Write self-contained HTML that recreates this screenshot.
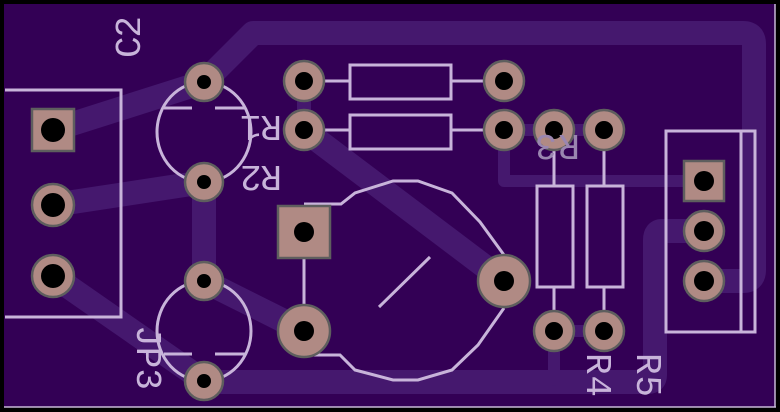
<!DOCTYPE html>
<html><head><style>html,body{margin:0;padding:0;background:#000}svg{display:block}</style></head>
<body>
<svg width="780" height="412" viewBox="0 0 780 412" xmlns="http://www.w3.org/2000/svg">
<rect x="0" y="0" width="780" height="412" fill="#000"/>
<rect x="4" y="4" width="771" height="403" fill="#330055"/>
<line x1="4" y1="407" x2="776" y2="407" stroke="#c8b8d8" stroke-width="1.5"/>
<line x1="775" y1="4" x2="775" y2="407" stroke="#c8b8d8" stroke-width="1.5"/>
<g stroke="#45186e" fill="none" stroke-linejoin="round" stroke-linecap="round">
 <path d="M204,82 L253,33 L743,33 Q754,33 754,44 L754,270 Q754,281 743,281 L704,281" stroke-width="24"/>
 <path d="M704,231 L662,231 Q655,231 655,240 L655,375 Q655,382 648,382 L204,382" stroke-width="24"/>
 <path d="M53,130 L204,82" stroke-width="24"/>
 <path d="M53,205 L204,182" stroke-width="24"/>
 <path d="M204,182 L204,281" stroke-width="24"/>
 <path d="M53,276 L204,381" stroke-width="24"/>
 <path d="M204,281 L304,331" stroke-width="24"/>
 <path d="M304,130 L504,281" stroke-width="24"/>
 <path d="M304,81 L304,130" stroke-width="14"/>
 <path d="M504,130 L504,181 L704,181" stroke-width="12"/>
 <path d="M504,130 L604,130" stroke-width="12"/>
 <path d="M554,331 L604,331" stroke-width="12"/>
 <path d="M554,331 L554,380" stroke-width="12"/>
</g>
<g stroke="#c8b4da" stroke-width="3" fill="none">
 <path d="M5,90 L121,90 L121,317 L5,317"/>
 <ellipse cx="204" cy="132" rx="47" ry="50"/>
 <line x1="164" y1="108" x2="192" y2="108"/><line x1="215" y1="108" x2="246" y2="108"/>
 <ellipse cx="204" cy="331" rx="47" ry="50"/>
 <line x1="164" y1="354" x2="192" y2="354"/><line x1="215" y1="354" x2="246" y2="354"/>
 <rect x="350" y="65" width="101" height="34"/><line x1="324" y1="81" x2="350" y2="81"/><line x1="451" y1="81" x2="484" y2="81"/>
 <rect x="350" y="115" width="101" height="34"/><line x1="324" y1="130" x2="350" y2="130"/><line x1="451" y1="130" x2="484" y2="130"/>
 <rect x="537" y="186" width="36" height="101"/><line x1="554" y1="150" x2="554" y2="186"/><line x1="554" y1="287" x2="554" y2="311"/>
 <rect x="587" y="186" width="36" height="101"/><line x1="604" y1="150" x2="604" y2="186"/><line x1="604" y1="287" x2="604" y2="311"/>
 <rect x="666" y="131" width="89" height="201"/><line x1="741" y1="131" x2="741" y2="332"/>
 <path d="M304,204 L341,204 L355,193 L393,181 L418,181 L452,193 L480,222 L504,255"/>
 <path d="M504,308 L478,345 L452,370 L418,380 L393,380 L355,370 L340,355 L304,355"/>
 <line x1="379" y1="307" x2="430" y2="257"/>
 <line x1="304" y1="258" x2="304" y2="305"/>
</g>
<g fill="#b08a84" stroke="#5e5e5e" stroke-width="2.5">
 <rect x="32" y="109" width="42" height="42"/>
 <circle cx="53" cy="205" r="21"/><circle cx="53" cy="276" r="21"/>
 <circle cx="204" cy="82" r="19"/><circle cx="204" cy="182" r="19"/>
 <circle cx="204" cy="281" r="19"/><circle cx="204" cy="381" r="19"/>
 <circle cx="304" cy="81" r="20"/><circle cx="504" cy="81" r="20"/>
 <circle cx="304" cy="130" r="20"/><circle cx="504" cy="130" r="20"/>
 <circle cx="554" cy="130" r="20"/><circle cx="604" cy="130" r="20"/>
 <circle cx="554" cy="331" r="20"/><circle cx="604" cy="331" r="20"/>
 <rect x="278" y="206" width="52" height="52"/>
 <circle cx="304" cy="331" r="26"/><circle cx="504" cy="281" r="26"/>
 <rect x="684" y="161" width="40" height="40"/>
 <circle cx="704" cy="231" r="20"/><circle cx="704" cy="281" r="20"/>
</g>
<g fill="#000">
 <circle cx="53" cy="130" r="12"/><circle cx="53" cy="205" r="12"/><circle cx="53" cy="276" r="12"/>
 <circle cx="204" cy="82" r="7"/><circle cx="204" cy="182" r="7"/><circle cx="204" cy="281" r="7"/><circle cx="204" cy="381" r="7"/>
 <circle cx="304" cy="81" r="9"/><circle cx="504" cy="81" r="9"/><circle cx="304" cy="130" r="9"/><circle cx="504" cy="130" r="9"/>
 <circle cx="554" cy="130" r="9"/><circle cx="604" cy="130" r="9"/><circle cx="554" cy="331" r="9"/><circle cx="604" cy="331" r="9"/>
 <circle cx="304" cy="232" r="10"/><circle cx="304" cy="331" r="10"/><circle cx="504" cy="281" r="10"/>
 <circle cx="704" cy="181" r="10"/><circle cx="704" cy="231" r="10"/><circle cx="704" cy="281" r="10"/>
</g>
<g fill="#c8b4da" font-family="'Liberation Mono', monospace" font-size="36">
 <text transform="translate(140,58) rotate(-90)" x="0" y="0" textLength="42">C2</text>
 <text transform="translate(282,116) rotate(180)" x="0" y="0" textLength="42">R1</text>
 <text transform="translate(282,166) rotate(180)" x="0" y="0" textLength="42">R2</text>
 <text transform="translate(580,135) rotate(180)" x="0" y="0" textLength="45" fill="#9a86b0">R3</text>
 <text transform="translate(137,325) rotate(90)" x="0" y="0" textLength="65">JP3</text>
 <text transform="translate(587,353) rotate(90)" x="0" y="0" textLength="44">R4</text>
 <text transform="translate(637,353) rotate(90)" x="0" y="0" textLength="44">R5</text>
</g>
</svg>
</body></html>
